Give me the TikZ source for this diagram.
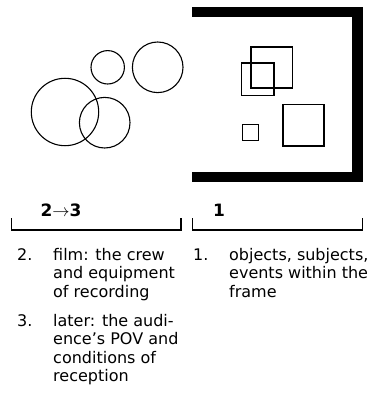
\documentclass[tikz,border=0pt]{standalone}
\usepackage{fontspec}
\setmainfont{DejaVu Sans}
\usepackage{tikz}

\begin{document}
\begin{tikzpicture}[x=1pt, y=-1pt,
  ring/.style={line width=1.1pt},
  box/.style={line width=1.5pt},
  brace/.style={line width=1.5pt},
  head/.style={anchor=base, inner sep=0pt, font=\bfseries\fontsize{17}{20}\selectfont},
  num/.style={anchor=base west, inner sep=0pt, font=\fontsize{16}{18.5}\selectfont},
  item/.style={anchor=north west, inner sep=0pt, align=left, font=\fontsize{16}{18.5}\selectfont}]
\useasboundingbox (0,0) rectangle (372,404);
% the frame
\draw[line width=10.5pt, miter limit=10] (192,12) -- (357.5,12) -- (357.5,177) -- (192,177);
% circles outside the frame
\draw[ring] (107.7,67.3) circle[radius=16.7pt];
\draw[ring] (157.7,67.3) circle[radius=25.3pt];
\draw[ring] (65,112) circle[radius=33.7pt];
\draw[ring] (104.7,122.7) circle[radius=25.3pt];
% squares inside the frame
\draw[box] (251,47) rectangle (292.3,88);
\draw[box] (241.3,63) rectangle (274,95.3);
\draw[box] (242.3,124.7) rectangle (258.3,140.7);
\draw[box] (283,104.7) rectangle (324,146);
% headings and brackets
\node[head] (head23) at (61,216) {2$\rightarrow$3};
\node[head] (head1) at (219,216) {1};
\draw[brace] (11.7,218) -- (11.7,230) -- (181,230) -- (181,218);
\draw[brace] (192.7,218) -- (192.7,230) -- (362.3,230) -- (362.3,218);
% notes
\node[num] (num2) at (17,260) {2.};
\node[item] (txt2) at (53,247.8) {film: the crew\\and equipment\\of recording};
\node[num] (num3) at (17,326) {3.};
\node[item] (txt3) at (53,313.8) {later: the audi-\\ence's POV and\\conditions of\\reception};
\node[num] (num1) at (193,260) {1.};
\node[item] (txt1) at (229,247.8) {objects, subjects,\\events within the\\frame};
\end{tikzpicture}
\end{document}
